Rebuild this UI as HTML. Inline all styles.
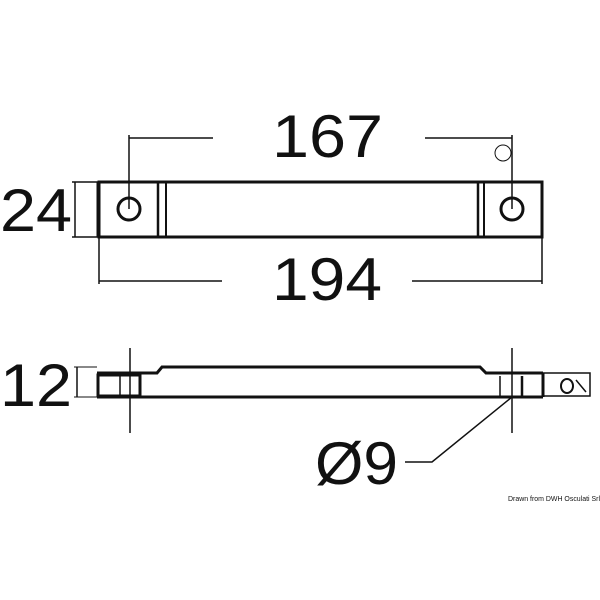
<!DOCTYPE html>
<html><head><style>
body{margin:0;background:#fff;}
svg{display:block}
text{font-family:"Liberation Sans",sans-serif;fill:#111}
</style></head><body>
<svg width="600" height="600" viewBox="0 0 600 600" xmlns="http://www.w3.org/2000/svg">
<g stroke="#111" fill="none">
<rect x="99" y="182" width="443" height="55" stroke-width="3"/>
<line x1="158" y1="182" x2="158" y2="237" stroke-width="2.5"/>
<line x1="166" y1="182" x2="166" y2="237" stroke-width="2"/>
<line x1="478" y1="182" x2="478" y2="237" stroke-width="2.5"/>
<line x1="484" y1="182" x2="484" y2="237" stroke-width="2"/>
<circle cx="129" cy="209" r="11" stroke-width="3"/>
<circle cx="512" cy="209" r="11" stroke-width="3"/>
<line x1="129" y1="135" x2="129" y2="209" stroke-width="1.5"/>
<line x1="512" y1="135" x2="512" y2="209" stroke-width="1.5"/>
<line x1="129" y1="138" x2="213" y2="138" stroke-width="1.5"/>
<line x1="425" y1="138" x2="512" y2="138" stroke-width="1.5"/>
<circle cx="503" cy="153" r="8" stroke-width="1"/>
<line x1="75" y1="182" x2="75" y2="237" stroke-width="1.5"/>
<line x1="72" y1="182" x2="99" y2="182" stroke-width="1.5"/>
<line x1="72" y1="237" x2="99" y2="237" stroke-width="1.5"/>
<line x1="97" y1="182" x2="97" y2="237" stroke-width="1"/>
<line x1="99" y1="237" x2="99" y2="284" stroke-width="1.5"/>
<line x1="542" y1="237" x2="542" y2="284" stroke-width="1.5"/>
<line x1="99" y1="281" x2="222" y2="281" stroke-width="1.5"/>
<line x1="412" y1="281" x2="542" y2="281" stroke-width="1.5"/>
<polyline points="97,373 157,373 162,367 480,367 486,373 543,373" stroke-width="3"/>
<line x1="97" y1="397" x2="543" y2="397" stroke-width="3"/>
<rect x="98" y="375" width="42" height="21" stroke-width="3"/>
<line x1="120" y1="376" x2="120" y2="396" stroke-width="1.5"/>
<line x1="500" y1="376" x2="500" y2="396" stroke-width="1.5"/>
<line x1="522" y1="376" x2="522" y2="396" stroke-width="2.5"/>
<line x1="543" y1="373" x2="543" y2="397" stroke-width="3"/>
<rect x="543" y="373" width="47" height="23" stroke-width="1.5"/>
<ellipse cx="567" cy="386" rx="6" ry="7" stroke-width="2"/>
<line x1="576" y1="380" x2="586" y2="392" stroke-width="1.5"/>
<line x1="130" y1="348" x2="130" y2="433" stroke-width="1.5"/>
<line x1="512" y1="348" x2="512" y2="433" stroke-width="1.5"/>
<line x1="77" y1="367" x2="77" y2="397" stroke-width="1.5"/>
<line x1="74" y1="367" x2="97" y2="367" stroke-width="1"/>
<line x1="74" y1="397" x2="97" y2="397" stroke-width="1"/>
<polyline points="512,397 432,462 405,462" stroke-width="1.5"/>
</g>
<text x="272" y="157" font-size="60" textLength="111" lengthAdjust="spacingAndGlyphs">167</text>
<text x="272" y="300" font-size="60" textLength="110" lengthAdjust="spacingAndGlyphs">194</text>
<text x="0" y="231" font-size="60" textLength="72" lengthAdjust="spacingAndGlyphs">24</text>
<text x="0" y="406" font-size="60" textLength="72" lengthAdjust="spacingAndGlyphs">12</text>
<text x="315" y="484" font-size="60" textLength="83" lengthAdjust="spacingAndGlyphs">Ø9</text>
<text x="508" y="501" font-size="7.5" textLength="92" lengthAdjust="spacingAndGlyphs">Drawn from DWH Osculati Srl</text>
</svg>
</body></html>
